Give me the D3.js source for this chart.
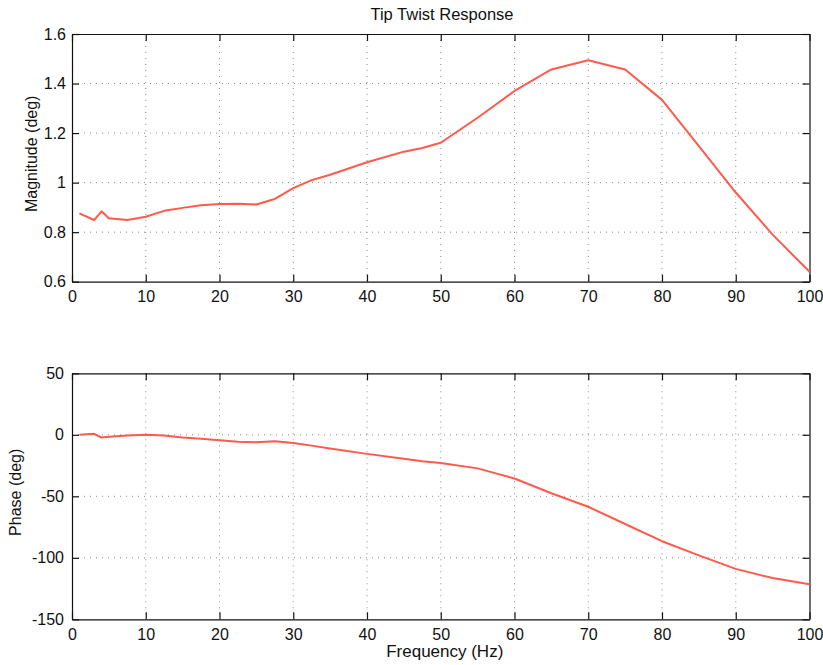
<!DOCTYPE html>
<html>
<head>
<meta charset="utf-8">
<script src="https://cdn.jsdelivr.net/npm/d3@7"></script>
<style>
  html, body { margin: 0; padding: 0; background: #fff; }
  svg { display: block; font-family: "Liberation Sans", Arial, Helvetica, sans-serif; }
</style>
</head>
<body>
<svg id="chart" width="823" height="665"></svg>
<script>
// ---- data ----
const titleText = "Tip Twist Response";
const freq = [1, 3, 4, 5, 7.5, 10, 12.5, 15, 17.5, 20, 22.5, 25, 27.5, 30, 32.5, 35, 40, 45, 47.5, 50, 55, 60, 65, 70, 75, 80, 85, 90, 95, 100];
const magnitude = [0.876, 0.849, 0.884, 0.856, 0.849, 0.862, 0.886, 0.898, 0.909, 0.914, 0.915, 0.912, 0.934, 0.978, 1.01, 1.032, 1.082, 1.125, 1.14, 1.161, 1.262, 1.37, 1.457, 1.494, 1.457, 1.334, 1.147, 0.96, 0.79, 0.64];
const phase = [0, 0.8, -2.2, -1.5, -0.5, 0, -0.6, -2.2, -3.3, -4.5, -5.7, -6.0, -5.2, -6.6, -8.8, -11.2, -15.5, -19.5, -21.5, -23.0, -27.3, -35.5, -47.5, -58.5, -72.5, -86.5, -98, -109, -116.5, -121.5];
const xTicks = [0, 10, 20, 30, 40, 50, 60, 70, 80, 90, 100];
const magTicks = [0.6, 0.8, 1, 1.2, 1.4, 1.6];
const phaseTicks = [-150, -100, -50, 0, 50];
const magLabel = "Magnitude (deg)";
const phaseLabel = "Phase (deg)";
const xLabel = "Frequency (Hz)";

const svg = d3.select("#chart");
const lineColor = "#ff5a4c";
const left = 72, right = 809.5;

function panel(top, bottom, yDomain, yTicks, values, yLab, labX, yPad) {
  const x = d3.scaleLinear().domain([0, 100]).range([left, right]);
  const y = d3.scaleLinear().domain(yDomain).range([bottom, top]);
  const g = svg.append("g");

  // grid
  g.append("g").selectAll("line").data(xTicks.slice(1, -1)).join("line")
    .attr("x1", d => x(d)).attr("x2", d => x(d)).attr("y1", top).attr("y2", bottom)
    .attr("stroke", "#8a8a8a").attr("stroke-width", 1).attr("stroke-dasharray", "1,5");
  g.append("g").selectAll("line").data(yTicks.slice(1, -1)).join("line")
    .attr("y1", d => y(d)).attr("y2", d => y(d)).attr("x1", left).attr("x2", right)
    .attr("stroke", "#8a8a8a").attr("stroke-width", 1).attr("stroke-dasharray", "1,5");

  // axes (ticks inward on all sides)
  const tl = 7;
  const fmt = d => String(d);
  const ax = g.append("g").attr("transform", `translate(0,${bottom})`)
    .call(d3.axisBottom(x).tickValues(xTicks).tickSizeInner(-tl).tickSizeOuter(0).tickPadding(9).tickFormat(fmt));
  const axT = g.append("g").attr("transform", `translate(0,${top})`)
    .call(d3.axisTop(x).tickValues(xTicks).tickSizeInner(-tl).tickSizeOuter(0).tickFormat(""));
  const ay = g.append("g").attr("transform", `translate(${left},0)`)
    .call(d3.axisLeft(y).tickValues(yTicks).tickSizeInner(-tl).tickSizeOuter(0).tickPadding(yPad).tickFormat(fmt));
  const ayR = g.append("g").attr("transform", `translate(${right},0)`)
    .call(d3.axisRight(y).tickValues(yTicks).tickSizeInner(-tl).tickSizeOuter(0).tickFormat(""));
  [ax, axT, ay, ayR].forEach(a => {
    a.select(".domain").attr("stroke", "#111").attr("stroke-width", 1.2);
    a.selectAll(".tick line").attr("stroke", "#111").attr("stroke-width", 1.2);
    a.selectAll("text").attr("font-size", 16).attr("fill", "#111").attr("font-family", "Liberation Sans, Arial, sans-serif");
  });

  // data line
  const line = d3.line().x((d, i) => x(freq[i])).y(d => y(d));
  g.append("path").datum(values).attr("d", line)
    .attr("fill", "none").attr("stroke", lineColor).attr("stroke-width", 2).attr("stroke-linejoin", "round");

  // y label
  g.append("text").attr("transform", `translate(${labX},${(top + bottom) / 2 - 4}) rotate(-90)`)
    .attr("text-anchor", "middle").attr("font-size", 16).attr("fill", "#111").text(yLab);
  return x;
}

panel(34, 281.7, [0.6, 1.6], magTicks, magnitude, magLabel, 37, 6);
panel(373.3, 619.3, [-150, 50], phaseTicks, phase, phaseLabel, 21, 8);

svg.append("text").attr("x", 442).attr("y", 20).attr("text-anchor", "middle")
  .attr("font-size", 16.5).attr("fill", "#111").text(titleText);
svg.append("text").attr("x", (left + right) / 2 + 4).attr("y", 657).attr("text-anchor", "middle")
  .attr("font-size", 17).attr("fill", "#111").text(xLabel);
</script>
</body>
</html>
